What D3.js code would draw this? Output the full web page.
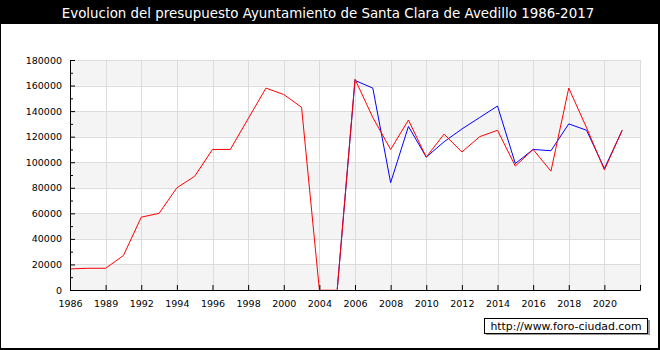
<!DOCTYPE html>
<html>
<head>
<meta charset="utf-8">
<script src="https://cdn.jsdelivr.net/npm/d3@7"></script>
<style>
	body { margin: 0; background: #fff; }
	svg text { font-family: "DejaVu Sans", Verdana, sans-serif; }
</style>
</head>
<body>
<div id="chart"></div>
<script>
"use strict";

// years on the category axis (one slot each, labels every other slot)
var years = ["1986", "1988", "1989", "1990", "1992", "1993", "1994", "1995", "1996", "1997",
	"1998", "1999", "2000", "2002", "2004", "2005", "2006", "2007", "2008", "2009",
	"2010", "2011", "2012", "2013", "2014", "2015", "2016", "2017", "2018", "2019",
	"2020", "2021"];

// red series
var ingresos = [16500, 17000, 17000, 27000, 57000, 60000, 80000, 89000, 110000, 110000,
	134000, 158000, 153000, 143000, 0, 0, 165000, 135000, 110000, 133000,
	104000, 122000, 108000, 120000, 125000, 97000, 110000, 93000, 158000, 127000,
	94000, 125000];

// blue series (starts in 2005)
var gastos = [null, null, null, null, null, null, null, null, null, null,
	null, null, null, null, null, 0, 164000, 158000, 84000, 128000,
	104000, 116000, 126000, 135000, 144000, 99000, 110000, 109000, 130000, 125000,
	95000, 125000];

var yTicks = [0, 20000, 40000, 60000, 80000, 100000, 120000, 140000, 160000, 180000];

var title = "Evolucion del presupuesto Ayuntamiento de Santa Clara de Avedillo 1986-2017";
var credit = "http://www.foro-ciudad.com";

var W = 660, H = 350;
var plotL = 70, plotR = 640, plotT = 60, plotB = 290;

var svg = d3.select("#chart").append("svg")
	.attr("width", W)
	.attr("height", H);

// frame
svg.append("rect").attr("x", 0).attr("y", 0).attr("width", W).attr("height", H).attr("fill", "#000");
svg.append("rect").attr("x", 1).attr("y", 24).attr("width", 657).attr("height", 324).attr("fill", "#fff");

svg.append("text")
	.attr("x", 328)
	.attr("y", 18)
	.attr("text-anchor", "middle")
	.attr("fill", "#fff")
	.style("font-size", "13.4px")
	.text(title);

var x = d3.scaleLinear().domain([0, 32]).range([plotL, plotR]);
var y = d3.scaleLinear().domain([0, 180000]).range([plotB, plotT]);

svg.append("clipPath").attr("id", "clip")
	.append("rect").attr("x", plotL).attr("y", plotT - 10)
	.attr("width", plotR - plotL).attr("height", plotB - plotT + 9.5);

var plot = svg.append("g");

// alternating bands
for (var b = 0; b < yTicks.length - 1; b++) {
	if (b % 2 === 0) {
		plot.append("rect")
			.attr("x", plotL)
			.attr("y", y(yTicks[b + 1]))
			.attr("width", plotR - plotL)
			.attr("height", y(yTicks[b]) - y(yTicks[b + 1]))
			.attr("fill", "#f4f4f4");
	}
}

// grid
var xIdx = d3.range(0, 31, 2);
plot.selectAll(".gx").data(xIdx.concat([32])).enter().append("line")
	.attr("x1", function(d) { return Math.round(x(d)) + 0.5; })
	.attr("x2", function(d) { return Math.round(x(d)) + 0.5; })
	.attr("y1", plotT).attr("y2", plotB)
	.attr("stroke", "#dcdcdc");
plot.selectAll(".gy").data(yTicks.slice(1)).enter().append("line")
	.attr("x1", plotL).attr("x2", plotR)
	.attr("y1", function(d) { return Math.round(y(d)) + 0.5; })
	.attr("y2", function(d) { return Math.round(y(d)) + 0.5; })
	.attr("stroke", "#dcdcdc");

// lines
var line = d3.line()
	.defined(function(d) { return d !== null; })
	.x(function(d, i) { return x(i); })
	.y(function(d) { return y(d); });

var series = plot.append("g").attr("clip-path", "url(#clip)");
series.append("path").datum(gastos)
	.attr("d", line).attr("fill", "none").attr("stroke", "#0000ff").attr("stroke-width", 1);
series.append("path").datum(ingresos)
	.attr("d", line).attr("fill", "none").attr("stroke", "#ff0000").attr("stroke-width", 1);

// axes
var yMinor = svg.append("g").attr("transform", "translate(" + plotL + ",0)")
	.call(d3.axisLeft(y).tickValues(d3.range(10000, 180000, 20000)).tickSize(-3).tickFormat(""));
yMinor.select(".domain").remove();

var yAxis = svg.append("g").attr("transform", "translate(" + plotL + ",0)")
	.call(d3.axisLeft(y).tickValues(yTicks).tickSize(-5).tickSizeOuter(0).tickPadding(8)
		.tickFormat(d3.format("d")));

var xAxis = svg.append("g").attr("transform", "translate(0," + plotB + ")")
	.call(d3.axisBottom(x).tickValues(xIdx).tickSize(-5).tickSizeOuter(-5).tickPadding(8)
		.tickFormat(function(i) { return years[i]; }));

svg.selectAll(".tick text").attr("fill", "#000").style("font-size", "9.5px").style("font-family", "DejaVu Sans");
xAxis.selectAll(".tick text").attr("dy", "0.9em");

// credit box
svg.append("rect").attr("x", 486).attr("y", 320).attr("width", 164).attr("height", 15).attr("fill", "#999");
svg.append("rect").attr("x", 484.5).attr("y", 318.5).attr("width", 163).attr("height", 15)
	.attr("fill", "#fff").attr("stroke", "#000");
svg.append("text")
	.attr("x", 566)
	.attr("y", 330)
	.attr("text-anchor", "middle")
	.style("font-size", "10.9px")
	.text(credit);
</script>
</body>
</html>
